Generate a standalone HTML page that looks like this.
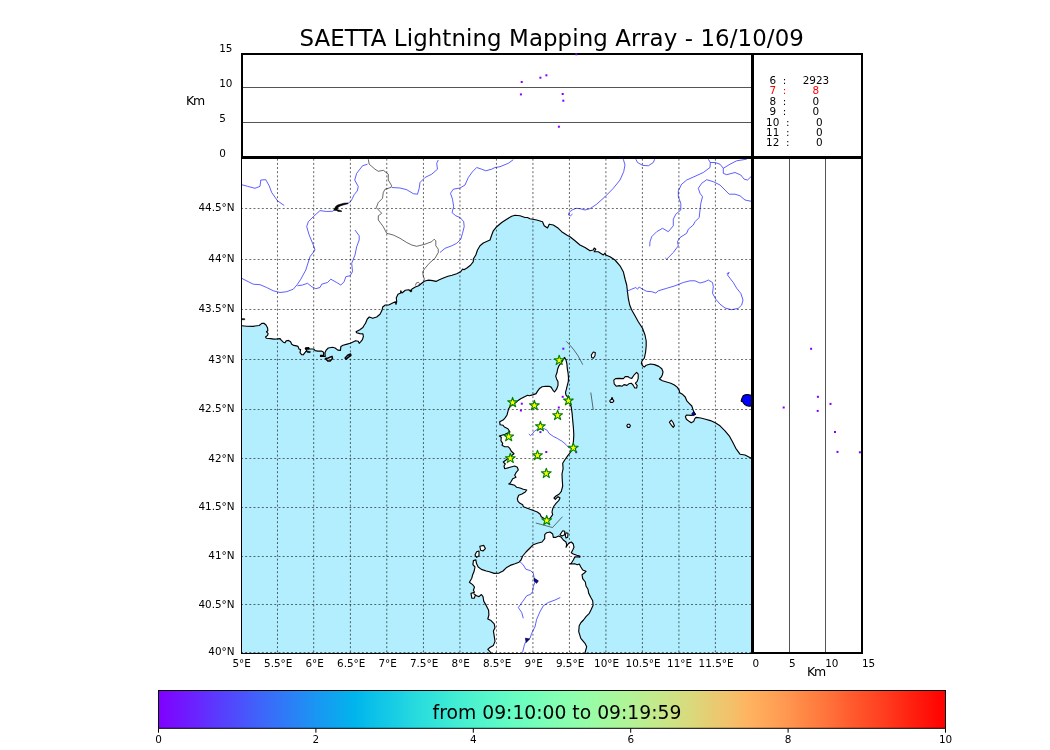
<!DOCTYPE html>
<html><head><meta charset="utf-8"><title>SAETTA Lightning Mapping Array</title>
<style>html,body{margin:0;padding:0;background:#fff}svg{display:block}text{font-family:"DejaVu Sans","Liberation Sans",sans-serif;fill:#000}</style></head><body>
<svg width="1050" height="750" viewBox="0 0 1050 750">
<defs><linearGradient id="rb" x1="0" x2="1" y1="0" y2="0"><stop offset="0.00%" stop-color="#8000ff"/><stop offset="2.50%" stop-color="#7413ff"/><stop offset="5.00%" stop-color="#6826fe"/><stop offset="7.50%" stop-color="#5a3bfd"/><stop offset="10.00%" stop-color="#4e4dfc"/><stop offset="12.50%" stop-color="#4062fa"/><stop offset="15.00%" stop-color="#3473f8"/><stop offset="17.50%" stop-color="#2884f6"/><stop offset="20.00%" stop-color="#1996f3"/><stop offset="22.50%" stop-color="#0ea5ef"/><stop offset="25.00%" stop-color="#00b5eb"/><stop offset="27.50%" stop-color="#0dc2e8"/><stop offset="30.00%" stop-color="#18cde4"/><stop offset="32.50%" stop-color="#27dade"/><stop offset="35.00%" stop-color="#32e3da"/><stop offset="37.50%" stop-color="#40ecd4"/><stop offset="40.00%" stop-color="#4df3ce"/><stop offset="42.50%" stop-color="#58f8c9"/><stop offset="45.00%" stop-color="#66fcc2"/><stop offset="47.50%" stop-color="#72febb"/><stop offset="50.00%" stop-color="#80ffb4"/><stop offset="52.50%" stop-color="#8cfead"/><stop offset="55.00%" stop-color="#99fca6"/><stop offset="57.50%" stop-color="#a6f89d"/><stop offset="60.00%" stop-color="#b2f396"/><stop offset="62.50%" stop-color="#c0eb8d"/><stop offset="65.00%" stop-color="#cce385"/><stop offset="67.50%" stop-color="#d9da7d"/><stop offset="70.00%" stop-color="#e6cd73"/><stop offset="72.50%" stop-color="#f2c26b"/><stop offset="75.00%" stop-color="#ffb360"/><stop offset="77.50%" stop-color="#ffa558"/><stop offset="80.00%" stop-color="#ff964f"/><stop offset="82.50%" stop-color="#ff8444"/><stop offset="85.00%" stop-color="#ff733b"/><stop offset="87.50%" stop-color="#ff5f30"/><stop offset="90.00%" stop-color="#ff4d27"/><stop offset="92.50%" stop-color="#ff3b1e"/><stop offset="95.00%" stop-color="#ff2613"/><stop offset="97.50%" stop-color="#ff1309"/><stop offset="100.00%" stop-color="#ff0000"/></linearGradient>
<clipPath id="mc"><rect x="241.0" y="156.65" width="511.0" height="496.85"/></clipPath></defs>
<rect width="1050" height="750" fill="#fff"/>
<rect x="241.0" y="156.65" width="511.0" height="496.85" fill="#b3eeff"/>
<g clip-path="url(#mc)">
<polygon points="241.7,325.8 246.7,326.3 253.3,326.4 255.0,326.0 259.2,325.5 261.8,323.4 263.9,323.2 266.0,325.0 267.6,328.1 267.8,330.7 266.5,331.8 268.1,333.3 267.6,335.4 265.5,337.0 266.5,338.3 270.7,338.6 273.9,339.1 277.5,338.9 280.1,338.6 281.2,340.1 283.3,342.2 284.9,342.8 286.4,340.7 288.5,340.4 290.6,341.7 291.7,344.3 293.8,345.4 296.4,345.9 298.0,346.4 299.0,349.0 300.6,349.6 300.0,352.7 301.6,354.6 303.2,354.8 305.3,352.2 306.9,350.1 305.3,348.5 308.4,347.7 309.5,349.0 313.7,349.0 315.2,350.6 317.9,351.1 321.5,351.1 323.6,352.2 323.6,355.3 320.5,355.3 320.5,356.4 325.2,356.4 325.0,352.7 326.2,350.1 328.3,348.0 332.5,347.3 335.1,348.0 337.8,350.1 340.4,350.4 340.9,346.4 343.0,345.2 347.2,344.1 350.3,343.3 353.0,342.0 355.6,340.7 358.2,341.2 359.2,343.3 360.8,341.7 362.4,339.6 363.4,336.5 362.9,333.9 359.8,333.6 356.6,332.8 356.1,331.8 359.8,329.7 362.9,327.6 364.0,325.5 365.0,324.0 365.3,323.7 367.3,319.0 369.3,317.0 372.7,318.3 376.7,317.0 380.0,314.3 382.0,310.3 382.7,307.0 385.3,305.0 388.7,305.0 392.7,303.0 395.3,301.7 396.0,304.3 396.7,301.7 396.3,297.7 398.0,294.3 400.7,293.0 400.7,290.7 402.0,293.0 405.3,290.3 408.7,289.7 410.7,291.0 412.0,289.0 415.3,287.0 418.7,285.7 422.0,283.0 424.7,281.0 428.7,280.1 432.7,280.6 436.0,281.4 439.3,279.7 444.0,277.7 448.0,276.3 452.0,275.3 456.7,273.7 460.7,271.7 462.7,269.0 464.0,269.7 467.3,267.7 470.7,265.0 473.3,261.7 473.3,259.0 475.8,255.0 477.5,250.0 480.0,245.8 483.3,243.0 490.0,240.0 491.7,235.0 493.3,230.8 496.7,226.7 501.7,222.5 506.7,219.2 511.7,216.3 515.0,215.3 520.0,215.8 525.0,217.5 527.5,217.5 530.0,218.7 536.7,220.0 542.5,221.7 544.2,225.8 547.5,228.0 549.2,224.2 553.3,225.0 558.3,228.3 561.7,231.7 566.7,235.0 570.0,236.7 575.0,240.8 580.0,245.0 585.0,247.5 590.0,250.8 593.3,250.0 594.2,248.0 595.8,249.2 594.2,251.7 598.3,251.7 603.3,255.0 605.0,253.0 605.8,255.0 610.0,256.7 615.0,260.0 620.0,265.8 623.3,271.7 625.3,280.0 626.7,285.0 627.5,291.7 628.3,298.3 629.7,305.0 631.7,310.0 635.0,315.8 638.3,321.7 642.5,328.3 645.0,335.0 646.2,341.0 646.2,346.0 645.6,352.0 644.4,358.0 642.0,361.0 641.4,363.4 642.6,365.8 644.4,367.0 646.2,365.2 650.4,364.0 654.6,364.6 658.8,366.4 661.8,368.8 663.0,371.8 662.4,374.8 661.2,377.2 659.4,379.0 662.4,380.8 666.6,382.0 670.8,383.2 674.4,385.0 677.4,387.4 679.2,390.4 679.8,392.8 682.8,394.6 685.2,397.0 687.0,401.2 689.4,403.6 691.8,406.0 693.0,409.6 694.2,412.6 695.4,414.4 691.2,415.4 686.4,415.0 685.4,416.8 686.4,419.2 689.4,421.6 691.2,422.8 693.6,421.6 694.8,418.6 696.0,417.4 700.8,418.0 705.6,419.2 710.4,420.6 715.2,422.8 720.0,425.8 725.0,430.8 729.2,435.8 732.5,441.7 735.8,448.3 740.0,454.2 745.0,455.0 752.5,458.8 752.0,156.7 241.0,156.7" fill="#fff"/>
<polyline points="241.7,325.8 246.7,326.3 253.3,326.4 255.0,326.0 259.2,325.5 261.8,323.4 263.9,323.2 266.0,325.0 267.6,328.1 267.8,330.7 266.5,331.8 268.1,333.3 267.6,335.4 265.5,337.0 266.5,338.3 270.7,338.6 273.9,339.1 277.5,338.9 280.1,338.6 281.2,340.1 283.3,342.2 284.9,342.8 286.4,340.7 288.5,340.4 290.6,341.7 291.7,344.3 293.8,345.4 296.4,345.9 298.0,346.4 299.0,349.0 300.6,349.6 300.0,352.7 301.6,354.6 303.2,354.8 305.3,352.2 306.9,350.1 305.3,348.5 308.4,347.7 309.5,349.0 313.7,349.0 315.2,350.6 317.9,351.1 321.5,351.1 323.6,352.2 323.6,355.3 320.5,355.3 320.5,356.4 325.2,356.4 325.0,352.7 326.2,350.1 328.3,348.0 332.5,347.3 335.1,348.0 337.8,350.1 340.4,350.4 340.9,346.4 343.0,345.2 347.2,344.1 350.3,343.3 353.0,342.0 355.6,340.7 358.2,341.2 359.2,343.3 360.8,341.7 362.4,339.6 363.4,336.5 362.9,333.9 359.8,333.6 356.6,332.8 356.1,331.8 359.8,329.7 362.9,327.6 364.0,325.5 365.0,324.0 365.3,323.7 367.3,319.0 369.3,317.0 372.7,318.3 376.7,317.0 380.0,314.3 382.0,310.3 382.7,307.0 385.3,305.0 388.7,305.0 392.7,303.0 395.3,301.7 396.0,304.3 396.7,301.7 396.3,297.7 398.0,294.3 400.7,293.0 400.7,290.7 402.0,293.0 405.3,290.3 408.7,289.7 410.7,291.0 412.0,289.0 415.3,287.0 418.7,285.7 422.0,283.0 424.7,281.0 428.7,280.1 432.7,280.6 436.0,281.4 439.3,279.7 444.0,277.7 448.0,276.3 452.0,275.3 456.7,273.7 460.7,271.7 462.7,269.0 464.0,269.7 467.3,267.7 470.7,265.0 473.3,261.7 473.3,259.0 475.8,255.0 477.5,250.0 480.0,245.8 483.3,243.0 490.0,240.0 491.7,235.0 493.3,230.8 496.7,226.7 501.7,222.5 506.7,219.2 511.7,216.3 515.0,215.3 520.0,215.8 525.0,217.5 527.5,217.5 530.0,218.7 536.7,220.0 542.5,221.7 544.2,225.8 547.5,228.0 549.2,224.2 553.3,225.0 558.3,228.3 561.7,231.7 566.7,235.0 570.0,236.7 575.0,240.8 580.0,245.0 585.0,247.5 590.0,250.8 593.3,250.0 594.2,248.0 595.8,249.2 594.2,251.7 598.3,251.7 603.3,255.0 605.0,253.0 605.8,255.0 610.0,256.7 615.0,260.0 620.0,265.8 623.3,271.7 625.3,280.0 626.7,285.0 627.5,291.7 628.3,298.3 629.7,305.0 631.7,310.0 635.0,315.8 638.3,321.7 642.5,328.3 645.0,335.0 646.2,341.0 646.2,346.0 645.6,352.0 644.4,358.0 642.0,361.0 641.4,363.4 642.6,365.8 644.4,367.0 646.2,365.2 650.4,364.0 654.6,364.6 658.8,366.4 661.8,368.8 663.0,371.8 662.4,374.8 661.2,377.2 659.4,379.0 662.4,380.8 666.6,382.0 670.8,383.2 674.4,385.0 677.4,387.4 679.2,390.4 679.8,392.8 682.8,394.6 685.2,397.0 687.0,401.2 689.4,403.6 691.8,406.0 693.0,409.6 694.2,412.6 695.4,414.4 691.2,415.4 686.4,415.0 685.4,416.8 686.4,419.2 689.4,421.6 691.2,422.8 693.6,421.6 694.8,418.6 696.0,417.4 700.8,418.0 705.6,419.2 710.4,420.6 715.2,422.8 720.0,425.8 725.0,430.8 729.2,435.8 732.5,441.7 735.8,448.3 740.0,454.2 745.0,455.0 752.5,458.8" fill="none" stroke="#000" stroke-width="1.15" stroke-linejoin="round"/>
<polygon points="564.5,357.4 565.9,359.7 566.9,363.9 567.3,368.6 568.1,373.3 568.5,377.9 568.3,381.7 567.3,385.4 566.4,389.2 565.5,392.4 565.9,394.8 567.3,396.6 569.5,402.1 571.3,407.3 572.1,413.3 572.6,419.3 573.4,427.8 573.8,434.7 573.7,436.7 573.3,443.3 572.5,448.0 570.7,452.0 568.0,455.3 564.7,460.0 562.7,463.3 563.1,468.7 562.0,474.0 562.3,480.7 562.7,486.0 561.3,491.3 559.3,494.0 556.0,496.0 554.0,498.0 555.3,499.3 558.0,496.7 560.0,498.0 558.7,500.7 556.0,503.3 554.0,506.0 552.7,508.7 552.0,512.0 552.7,514.7 550.7,517.3 549.0,519.5 546.0,520.5 543.3,518.0 541.3,516.7 540.0,514.0 537.3,512.0 534.0,510.7 530.0,509.3 526.7,508.0 523.3,506.7 522.7,504.7 520.0,503.3 518.0,501.3 517.3,498.7 518.7,495.3 522.0,494.0 525.3,492.0 526.7,490.0 523.3,489.3 520.0,488.0 516.7,487.3 514.7,485.3 511.3,484.4 508.7,484.0 510.0,483.3 511.3,481.3 512.7,478.7 516.0,477.3 514.7,475.3 516.0,472.7 518.3,470.0 517.3,467.3 514.7,466.0 510.0,467.3 504.7,468.7 504.0,466.0 505.3,464.0 503.3,462.0 506.0,460.0 512.0,455.3 514.0,453.7 511.3,451.3 510.0,448.7 508.0,446.7 504.7,446.7 502.0,445.3 502.7,443.3 500.9,440.7 501.3,437.3 499.3,436.0 505.0,434.2 510.0,432.0 507.9,428.7 504.4,427.0 503.1,425.3 500.1,424.8 499.7,421.8 503.1,420.1 505.3,417.6 507.0,415.0 507.9,411.6 508.7,408.6 510.4,406.4 516.4,402.1 518.1,400.4 520.7,398.7 524.1,397.0 527.6,395.3 529.3,395.7 532.7,394.9 536.1,393.6 537.4,391.4 539.6,388.4 542.1,386.7 545.6,386.3 549.0,386.3 551.1,387.1 552.4,389.3 553.3,390.6 554.5,392.0 556.6,389.2 558.0,385.4 558.0,381.7 556.6,378.9 555.7,376.1 557.1,372.3 557.5,369.5 558.9,365.8 561.7,362.1" fill="#fff" stroke="#000" stroke-width="1.15" stroke-linejoin="round"/>
<polygon points="473.4,560.6 475.8,559.8 476.6,563.8 478.2,567.0 481.4,569.4 486.2,571.0 489.4,571.8 494.2,573.4 499.0,573.1 503.0,571.0 506.2,567.8 510.2,565.4 515.0,563.8 519.0,562.2 521.0,560.0 522.7,556.0 526.0,552.0 530.0,548.0 533.3,544.7 537.3,543.3 542.0,542.0 544.7,538.7 544.7,534.7 546.7,532.7 550.0,532.0 552.7,534.0 553.3,537.3 556.0,537.3 558.7,536.0 561.3,537.3 563.3,540.0 566.0,542.0 566.7,544.7 566.0,547.3 568.7,543.3 571.3,542.0 573.3,544.0 574.0,547.3 572.7,550.0 571.3,552.7 573.3,554.0 576.7,555.3 579.8,556.0 579.8,557.2 577.3,556.7 574.7,557.3 573.3,560.0 571.3,563.3 570.0,564.0 574.7,563.7 577.3,564.7 579.3,564.0 580.7,566.7 582.7,570.0 586.0,571.3 584.0,573.3 582.0,574.7 582.7,578.7 585.3,582.0 586.0,586.0 588.0,589.3 588.7,593.3 590.7,597.3 592.7,600.7 593.1,605.3 591.3,609.3 589.3,613.3 586.0,616.7 583.5,620.0 581.0,622.5 579.2,625.8 578.7,631.7 580.8,638.3 585.0,643.3 586.7,646.7 585.0,653.0 490.5,653.0 490.2,651.8 487.8,649.4 489.4,647.8 493.4,645.4 495.0,641.4 494.2,635.8 493.4,631.0 495.0,627.8 494.2,623.8 491.0,620.6 487.8,619.0 488.9,615.0 488.6,610.2 486.2,605.4 483.8,601.4 483.0,596.6 481.4,594.5 479.0,596.6 476.6,595.8 473.9,593.9 475.5,595.0 474.2,598.2 471.8,598.2 471.0,593.4 474.5,592.3 473.4,590.2 474.5,587.0 472.6,584.6 469.4,582.2 471.8,578.2 472.6,575.0 474.2,571.0 475.0,567.0 472.9,564.6 473.4,560.6" fill="#fff"/>
<polyline points="490.5,653.0 490.2,651.8 487.8,649.4 489.4,647.8 493.4,645.4 495.0,641.4 494.2,635.8 493.4,631.0 495.0,627.8 494.2,623.8 491.0,620.6 487.8,619.0 488.9,615.0 488.6,610.2 486.2,605.4 483.8,601.4 483.0,596.6 481.4,594.5 479.0,596.6 476.6,595.8 473.9,593.9 475.5,595.0 474.2,598.2 471.8,598.2 471.0,593.4 474.5,592.3 473.4,590.2 474.5,587.0 472.6,584.6 469.4,582.2 471.8,578.2 472.6,575.0 474.2,571.0 475.0,567.0 472.9,564.6 473.4,560.6 473.4,560.6 475.8,559.8 476.6,563.8 478.2,567.0 481.4,569.4 486.2,571.0 489.4,571.8 494.2,573.4 499.0,573.1 503.0,571.0 506.2,567.8 510.2,565.4 515.0,563.8 519.0,562.2 521.0,560.0 522.7,556.0 526.0,552.0 530.0,548.0 533.3,544.7 537.3,543.3 542.0,542.0 544.7,538.7 544.7,534.7 546.7,532.7 550.0,532.0 552.7,534.0 553.3,537.3 556.0,537.3 558.7,536.0 561.3,537.3 563.3,540.0 566.0,542.0 566.7,544.7 566.0,547.3 568.7,543.3 571.3,542.0 573.3,544.0 574.0,547.3 572.7,550.0 571.3,552.7 573.3,554.0 576.7,555.3 579.8,556.0 579.8,557.2 577.3,556.7 574.7,557.3 573.3,560.0 571.3,563.3 570.0,564.0 574.7,563.7 577.3,564.7 579.3,564.0 580.7,566.7 582.7,570.0 586.0,571.3 584.0,573.3 582.0,574.7 582.7,578.7 585.3,582.0 586.0,586.0 588.0,589.3 588.7,593.3 590.7,597.3 592.7,600.7 593.1,605.3 591.3,609.3 589.3,613.3 586.0,616.7 583.5,620.0 581.0,622.5 579.2,625.8 578.7,631.7 580.8,638.3 585.0,643.3 586.7,646.7 585.0,653.0" fill="none" stroke="#000" stroke-width="1.15" stroke-linejoin="round"/>
<polygon points="613.8,380.2 615.6,378.6 619.2,378.4 623.4,378.6 625.2,376.6 628.2,376.6 629.4,377.8 631.8,378.4 634.2,374.8 636.6,372.4 638.2,374.2 638.2,378.4 637.2,381.4 635.4,383.2 637.2,385.6 636.6,388.0 634.8,388.0 633.0,385.0 631.2,383.2 628.8,383.8 627.0,385.4 624.0,384.6 622.2,386.2 619.2,385.6 616.2,386.2 614.2,383.8" fill="#fff" stroke="#000" stroke-width="1.1" stroke-linejoin="round"/>
<polygon points="591.7,357.5 591.3,355.0 593.3,352.0 595.3,352.5 595.0,355.8 593.3,358.3" fill="#fff" stroke="#000" stroke-width="1.1" stroke-linejoin="round"/>
<polygon points="609.7,401.0 610.5,399.8 611.5,399.5 611.6,397.7 612.5,397.7 612.6,399.5 613.6,400.2 613.8,401.4 612.6,402.4 610.6,402.4" fill="#fff" stroke="#000" stroke-width="1.1" stroke-linejoin="round"/>
<polygon points="626.8,425.8 627.7,424.2 629.5,424.2 630.4,425.8 629.5,427.4 627.7,427.4" fill="#fff" stroke="#000" stroke-width="1.1" stroke-linejoin="round"/>
<polygon points="669.4,422.2 671.4,420.2 673.2,422.8 674.4,425.8 673.2,427.4 671.4,425.2" fill="#fff" stroke="#000" stroke-width="1.1" stroke-linejoin="round"/>
<polygon points="325.4,358.5 328.3,358.0 332.0,356.4 332.5,358.5 329.9,361.1 327.8,360.9" fill="#fff" stroke="#000" stroke-width="1.5" stroke-linejoin="round"/>
<polygon points="345.1,358.0 347.7,355.3 350.5,354.0 350.9,355.3 348.2,357.4 346.1,359.2" fill="#fff" stroke="#000" stroke-width="1.5" stroke-linejoin="round"/>
<polygon points="479.8,546.2 483.8,545.4 485.4,548.6 483.0,551.0 480.6,550.2" fill="#fff" stroke="#000" stroke-width="1.1" stroke-linejoin="round"/>
<polygon points="476.6,551.8 479.0,551.0 479.0,555.8 476.6,557.4 475.0,555.0" fill="#fff" stroke="#000" stroke-width="1.1" stroke-linejoin="round"/>
<polygon points="560.0,534.7 562.7,530.7 564.7,531.3 564.7,534.7 562.0,536.0" fill="#fff" stroke="#000" stroke-width="1.1" stroke-linejoin="round"/>
<polygon points="566.0,532.7 568.0,533.3 567.7,537.3 566.0,538.0 565.3,535.3" fill="#fff" stroke="#000" stroke-width="1.1" stroke-linejoin="round"/>
<polyline points="368.3,159.2 369.2,164.2 375.0,169.2 378.3,171.3 383.3,170.3 388.3,174.2 388.3,180.0 391.7,185.8 390.8,187.5 385.0,189.2 383.3,192.5 382.5,198.3 378.3,202.5 376.3,207.5 381.7,213.3 378.3,215.8 378.3,220.0 383.3,226.7 386.7,233.3 393.3,235.0 400.0,238.3 406.7,242.5 411.7,245.0 416.7,246.3 425.0,244.2 431.7,241.7 434.2,239.2 435.8,240.8 435.8,245.8 438.3,249.2 438.3,252.5 435.0,258.3 429.2,263.3 425.0,268.3 422.7,271.7 423.3,276.3 424.7,279.7" fill="none" stroke="#2a2a2a" stroke-width="0.7"/>
<polyline points="415.3,285.5 416.5,282.8 418.5,282.3 419.5,283.7 418.3,285.8" fill="none" stroke="#2a2a2a" stroke-width="0.7"/>
<polyline points="241.7,184.7 247.5,186.3 255.0,188.3 260.0,186.3 260.8,180.0 265.8,179.7 269.2,185.8 271.7,192.5 277.5,200.8 284.2,205.5" fill="none" stroke="#2a2aff" stroke-width="0.75" stroke-linejoin="round"/>
<polyline points="367.5,164.2 362.5,165.8 356.7,173.3 354.7,180.0 358.3,186.7 357.2,191.0 354.2,194.6 352.4,198.4 351.3,200.7 349.4,202.4 348.0,203.3 340.0,205.3 334.3,209.8 332.8,211.2 326.7,211.5 320.0,210.6 313.3,216.7 308.3,221.7 306.7,226.7 309.2,235.0 313.3,245.0 315.0,250.0 310.0,256.7 305.8,270.0 300.8,279.2 297.5,284.2 293.3,289.2 286.7,291.7 280.0,292.5 273.3,290.8 266.7,287.5 260.0,284.7 253.3,284.2 248.3,281.7 241.7,278.3" fill="none" stroke="#2a2aff" stroke-width="0.75" stroke-linejoin="round"/>
<polyline points="355.0,230.0 359.2,235.8 359.2,240.0 356.7,246.7 355.0,255.0 351.7,263.3 352.5,271.7 350.0,275.8 345.8,276.7 344.2,281.7 340.8,285.0 336.7,282.5 330.8,279.2 327.5,282.5 321.7,284.2 320.0,287.5 315.8,288.7 311.7,286.7 307.5,283.3 302.5,285.0 297.5,285.8" fill="none" stroke="#2a2aff" stroke-width="0.75" stroke-linejoin="round"/>
<polyline points="391.7,187.5 400.0,188.0 406.7,189.7 413.3,193.7 417.5,194.2 419.2,188.3 420.0,182.5 425.0,177.5 431.7,174.2 437.5,169.2 436.7,163.3 438.3,160.0" fill="none" stroke="#2a2aff" stroke-width="0.75" stroke-linejoin="round"/>
<polyline points="513.3,159.7 508.3,163.3 500.0,166.7 495.0,167.5 491.7,169.2 485.8,170.8 481.7,169.2 476.7,167.5 472.5,171.7 468.3,177.5 465.0,185.0 460.0,188.0 453.3,189.2 450.5,193.3 452.5,199.2 453.7,206.7 452.0,212.5 455.8,215.8 460.0,217.5 463.7,221.7 464.2,226.7 462.5,233.3 460.8,239.2 456.7,243.3 451.7,245.8 445.0,248.3 440.0,252.5" fill="none" stroke="#2a2aff" stroke-width="0.75" stroke-linejoin="round"/>
<polyline points="623.3,159.2 625.0,165.0 623.7,171.7 620.0,180.0 613.3,188.3 605.0,196.7 596.7,204.2 590.0,208.7 585.0,210.0 580.0,208.7 576.0,208.3 572.0,210.0 569.0,212.5 568.5,215.0 570.5,215.8 572.5,214.0" fill="none" stroke="#2a2aff" stroke-width="0.75" stroke-linejoin="round"/>
<polyline points="635.8,159.2 637.5,162.5 642.5,165.3 648.3,165.8 653.3,162.5 654.7,159.2" fill="none" stroke="#2a2aff" stroke-width="0.75" stroke-linejoin="round"/>
<polyline points="708.3,159.2 710.3,162.5 710.0,167.5 703.3,172.5 695.0,176.3 686.7,180.0 681.7,184.2 678.3,190.8 678.3,196.7 680.8,203.3 680.8,210.0 675.8,214.2 673.3,219.2 673.3,225.8 668.3,231.7 662.5,228.3 656.7,231.7 651.7,236.7 650.0,241.7 649.7,246.3" fill="none" stroke="#2a2aff" stroke-width="0.75" stroke-linejoin="round"/>
<polyline points="751.3,201.3 745.0,200.0 740.0,195.8 735.0,194.2 729.2,194.2 725.0,190.0 720.0,185.0 713.3,181.7 706.7,179.7 701.7,183.3 698.3,188.3 700.0,193.3 702.5,196.7 700.8,203.3 700.0,210.0 699.2,217.5 695.0,221.7 693.3,225.0 688.3,229.2 686.7,233.3 680.0,237.5 677.5,241.7 678.3,245.8 673.3,252.5 666.7,259.2 665.3,258.0" fill="none" stroke="#2a2aff" stroke-width="0.75" stroke-linejoin="round"/>
<polyline points="710.3,162.5 715.0,162.5 720.0,164.2 723.3,168.3 723.3,173.3 726.7,174.7 735.0,172.5 740.8,175.0 744.2,179.2 747.5,180.0 751.3,176.3" fill="none" stroke="#2a2aff" stroke-width="0.75" stroke-linejoin="round"/>
<polyline points="723.3,168.3 730.0,164.2 736.7,160.8 746.7,159.2" fill="none" stroke="#2a2aff" stroke-width="0.75" stroke-linejoin="round"/>
<polyline points="626.7,291.3 631.7,289.2 635.8,287.5 637.5,289.2 639.2,287.0 642.5,289.2 646.7,291.3 651.7,291.7 655.8,293.0 658.3,290.8 666.7,288.3 675.0,285.8 683.3,282.5 690.0,280.8 695.0,280.8 700.0,283.0 705.0,281.7 708.3,280.0 712.5,282.5 713.3,286.7 712.5,293.3 715.8,299.2 720.0,304.2 725.0,308.0 731.7,309.7 738.3,308.3 741.7,305.0 743.0,300.0 740.8,293.3 736.7,288.3 733.3,282.5 730.0,278.3 727.5,275.0 729.2,272.5 726.7,273.7" fill="none" stroke="#2a2aff" stroke-width="0.75" stroke-linejoin="round"/>
<polyline points="528.8,434.0 530.6,435.6 532.7,433.4 534.8,430.8 537.0,429.6 544.3,428.7 547.3,430.4 549.0,433.4 553.3,436.4 557.6,438.6 561.8,441.1 566.1,444.6 569.2,448.3" fill="none" stroke="#2a2aff" stroke-width="0.75" stroke-linejoin="round"/>
<polyline points="520.0,561.7 523.3,565.0 525.8,569.2 530.8,570.8 533.3,573.3 534.2,578.3 535.0,582.0 533.3,586.7 532.5,591.7 530.8,594.2 526.7,595.8 522.5,601.7 518.3,607.5 521.7,612.5 523.3,618.3" fill="none" stroke="#2a2aff" stroke-width="0.75" stroke-linejoin="round"/>
<polyline points="560.3,597.5 555.0,600.0 548.3,602.5 543.3,605.8 540.0,611.7 536.7,619.2 535.0,626.7 531.7,633.3 530.0,638.3 525.5,642.0 524.2,645.8 522.5,652.5" fill="none" stroke="#2a2aff" stroke-width="0.75" stroke-linejoin="round"/>
<polygon points="347.9,203.0 344.0,203.2 340.2,204.3 337.6,205.1 335.7,206.4 334.3,209.1 333.8,210.2 336.4,210.4 338.3,211.4 341.4,211.6 341.8,211.0 339.5,210.2 337.2,209.7 337.6,208.0 339.1,206.4 342.1,205.3 345.6,204.3 348.0,203.7" fill="#000" stroke="#000" stroke-width="0.6"/>
<polygon points="305.5,347.5 309.0,347.5 309.0,349.4 305.5,349.4" fill="#000" stroke="#000" stroke-width="0.6"/>
<polygon points="306.3,351.1 310.5,351.7 310.0,352.7 306.9,352.2" fill="#000" stroke="#000" stroke-width="0.6"/>
<polygon points="242.0,318.7 244.7,318.7 244.7,319.7 242.0,319.7" fill="#000" stroke="#000" stroke-width="0.6"/>
<polygon points="410.0,290.0 411.7,290.0 411.7,291.7 410.0,291.7" fill="#000" stroke="#000" stroke-width="0.6"/>
<polygon points="534.2,578.3 538.3,580.8 536.7,583.3 534.2,581.0" fill="#0000d0" stroke="#000" stroke-width="0.7"/>
<polygon points="525.4,638.2 529.6,639.0 526.2,642.4" fill="#0000d0" stroke="#000" stroke-width="0.7"/>
<polygon points="691.8,413.8 693.6,411.4 695.6,414.4 693.0,415.6" fill="#0000d0" stroke="#000" stroke-width="0.7"/>
<path d="M241.0 208.50H752.0M241.0 259.50H752.0M241.0 309.50H752.0M241.0 359.50H752.0M241.0 409.50H752.0M241.0 458.50H752.0M241.0 507.50H752.0M241.0 556.50H752.0M241.0 604.50H752.0M241.0 652.50H752.0" fill="none" stroke="#000" stroke-width="0.58" stroke-dasharray="1.95 2.2167"/>
<path d="M277.47 156.65V653.5M313.70 156.65V653.5M350.40 156.65V653.5M386.78 156.65V653.5M423.45 156.65V653.5M459.94 156.65V653.5M496.44 156.65V653.5M532.93 156.65V653.5M569.43 156.65V653.5M605.92 156.65V653.5M642.41 156.65V653.5M678.91 156.65V653.5M715.40 156.65V653.5" fill="none" stroke="#000" stroke-width="0.62" stroke-dasharray="1.95 2.2167" stroke-dashoffset="2.1"/>
<polyline points="566.2,341.3 570.1,345.3 573.9,349.9 577.6,355.1 580.4,360.2 582.8,364.7" fill="none" stroke="#222" stroke-width="0.65"/>
<polyline points="590.8,392.5 593.3,410.0" fill="none" stroke="#222" stroke-width="0.65"/>
<polyline points="535.8,523.0 552.5,527.5 562.5,516.7" fill="none" stroke="#222" stroke-width="0.65"/>
<rect x="520.8" y="402.7" width="2" height="2" fill="#8000ff"/>
<rect x="519.9" y="409.5" width="2" height="2" fill="#8000ff"/>
<rect x="561.7" y="395.8" width="2" height="2" fill="#8000ff"/>
<rect x="557.8" y="406.5" width="2" height="2" fill="#8000ff"/>
<rect x="539.4" y="431.1" width="2" height="2" fill="#8000ff"/>
<rect x="545.3" y="451.0" width="2" height="2" fill="#8000ff"/>
<rect x="575.2" y="451.2" width="2" height="2" fill="#8000ff"/>
<rect x="562.3" y="347.7" width="2" height="2" fill="#8000ff"/>
<polygon points="512.6,397.3 513.8,400.9 517.5,400.9 514.5,403.1 515.7,406.7 512.6,404.5 509.5,406.7 510.7,403.1 507.7,400.9 511.4,400.9" fill="#ffff00" stroke="#008000" stroke-width="1.1" stroke-linejoin="round"/>
<polygon points="534.4,400.3 535.6,403.9 539.3,403.9 536.3,406.1 537.5,409.7 534.4,407.5 531.3,409.7 532.5,406.1 529.5,403.9 533.2,403.9" fill="#ffff00" stroke="#008000" stroke-width="1.1" stroke-linejoin="round"/>
<polygon points="568.4,395.5 569.6,399.1 573.3,399.1 570.3,401.3 571.5,404.9 568.4,402.7 565.3,404.9 566.5,401.3 563.5,399.1 567.2,399.1" fill="#ffff00" stroke="#008000" stroke-width="1.1" stroke-linejoin="round"/>
<polygon points="557.6,410.2 558.8,413.8 562.5,413.8 559.5,416.0 560.7,419.6 557.6,417.4 554.5,419.6 555.7,416.0 552.7,413.8 556.4,413.8" fill="#ffff00" stroke="#008000" stroke-width="1.1" stroke-linejoin="round"/>
<polygon points="540.4,421.3 541.6,424.9 545.3,424.9 542.3,427.1 543.5,430.7 540.4,428.5 537.3,430.7 538.5,427.1 535.5,424.9 539.2,424.9" fill="#ffff00" stroke="#008000" stroke-width="1.1" stroke-linejoin="round"/>
<polygon points="508.7,431.4 509.9,435.0 513.6,435.0 510.6,437.2 511.8,440.8 508.7,438.6 505.6,440.8 506.8,437.2 503.8,435.0 507.5,435.0" fill="#ffff00" stroke="#008000" stroke-width="1.1" stroke-linejoin="round"/>
<polygon points="573.3,442.7 574.5,446.3 578.2,446.3 575.2,448.5 576.4,452.1 573.3,449.9 570.2,452.1 571.4,448.5 568.4,446.3 572.1,446.3" fill="#ffff00" stroke="#008000" stroke-width="1.1" stroke-linejoin="round"/>
<polygon points="537.5,450.2 538.7,453.8 542.4,453.8 539.4,456.0 540.6,459.6 537.5,457.4 534.4,459.6 535.6,456.0 532.6,453.8 536.3,453.8" fill="#ffff00" stroke="#008000" stroke-width="1.1" stroke-linejoin="round"/>
<polygon points="510.3,453.2 511.5,456.8 515.2,456.8 512.2,459.0 513.4,462.6 510.3,460.4 507.2,462.6 508.4,459.0 505.4,456.8 509.1,456.8" fill="#ffff00" stroke="#008000" stroke-width="1.1" stroke-linejoin="round"/>
<polygon points="546.3,468.2 547.5,471.8 551.2,471.8 548.2,474.0 549.4,477.6 546.3,475.4 543.2,477.6 544.4,474.0 541.4,471.8 545.1,471.8" fill="#ffff00" stroke="#008000" stroke-width="1.1" stroke-linejoin="round"/>
<polygon points="546.7,515.3 547.9,518.9 551.6,518.9 548.6,521.1 549.8,524.7 546.7,522.5 543.6,524.7 544.8,521.1 541.8,518.9 545.5,518.9" fill="#ffff00" stroke="#008000" stroke-width="1.1" stroke-linejoin="round"/>
<polygon points="559.2,355.2 560.4,358.8 564.1,358.8 561.1,361.0 562.3,364.6 559.2,362.4 556.1,364.6 557.3,361.0 554.3,358.8 558.0,358.8" fill="#ffff00" stroke="#008000" stroke-width="1.1" stroke-linejoin="round"/>
<polygon points="741.2,400.6 742,398.2 743.2,395.8 745.2,394.8 747.6,394.5 750,395 753,396 753,405.6 751.2,405.9 749.2,406.2 746.8,405.8 744.8,404.6 743.4,403 742.8,401.8 741.4,401.4" fill="#0000ff" stroke="#000" stroke-width="1.1" stroke-linejoin="round"/>
</g>
<path d="M241.5 157V654M241 653.5H752" fill="none" stroke="#000" stroke-width="1"/>
<path d="M242 87.5H752.5M242 122.5H752.5" stroke="#555" stroke-width="1" fill="none"/>
<path d="M789.5 157V653M825.5 157V653" stroke="#555" stroke-width="1" fill="none"/>
<rect x="242" y="54" width="620" height="103" fill="none" stroke="#000" stroke-width="2"/>
<path d="M241 157.5H863" stroke="#000" stroke-width="3" fill="none"/>
<path d="M752.5 53V654" stroke="#000" stroke-width="3" fill="none"/>
<path d="M862 157V653H752" stroke="#000" stroke-width="2" fill="none" stroke-linecap="square"/>
<rect x="520.7" y="81.0" width="2" height="2" fill="#8000ff"/>
<rect x="539.4" y="76.7" width="2" height="2" fill="#8000ff"/>
<rect x="545.4" y="74.3" width="2" height="2" fill="#8000ff"/>
<rect x="519.9" y="93.4" width="2" height="2" fill="#8000ff"/>
<rect x="561.7" y="93.0" width="2" height="2" fill="#8000ff"/>
<rect x="562.3" y="99.7" width="2" height="2" fill="#8000ff"/>
<rect x="557.9" y="125.7" width="2" height="2" fill="#8000ff"/>
<rect x="575.3" y="53.3" width="2" height="2" fill="#8000ff"/>
<rect x="810.1" y="347.8" width="2" height="2" fill="#8000ff"/>
<rect x="816.9" y="395.8" width="2" height="2" fill="#8000ff"/>
<rect x="829.5" y="402.9" width="2" height="2" fill="#8000ff"/>
<rect x="782.7" y="406.5" width="2" height="2" fill="#8000ff"/>
<rect x="816.7" y="409.9" width="2" height="2" fill="#8000ff"/>
<rect x="834.0" y="431.0" width="2" height="2" fill="#8000ff"/>
<rect x="836.5" y="450.9" width="2" height="2" fill="#8000ff"/>
<rect x="858.9" y="451.3" width="2" height="2" fill="#8000ff"/>
<text x="551.7" y="46" font-size="22.92" letter-spacing="0.08" text-anchor="middle">SAETTA Lightning Mapping Array - 16/10/09</text>
<text x="219.2" y="52" font-size="10.42">15</text>
<text x="219.2" y="87" font-size="10.42">10</text>
<text x="219.2" y="122" font-size="10.42">5</text>
<text x="219.2" y="157" font-size="10.42">0</text>
<text x="186" y="105" font-size="12.5" letter-spacing="-1.1">Km</text>
<text x="234.6" y="211" font-size="10.42" text-anchor="end">44.5°N</text>
<text x="234.6" y="262" font-size="10.42" text-anchor="end">44°N</text>
<text x="234.6" y="312" font-size="10.42" text-anchor="end">43.5°N</text>
<text x="234.6" y="363" font-size="10.42" text-anchor="end">43°N</text>
<text x="234.6" y="412" font-size="10.42" text-anchor="end">42.5°N</text>
<text x="234.6" y="462" font-size="10.42" text-anchor="end">42°N</text>
<text x="234.6" y="510" font-size="10.42" text-anchor="end">41.5°N</text>
<text x="234.6" y="559" font-size="10.42" text-anchor="end">41°N</text>
<text x="234.6" y="608" font-size="10.42" text-anchor="end">40.5°N</text>
<text x="234.6" y="655" font-size="10.42" text-anchor="end">40°N</text>
<text x="241.7" y="667" font-size="10.42" text-anchor="middle">5°E</text>
<text x="278.2" y="667" font-size="10.42" text-anchor="middle">5.5°E</text>
<text x="314.7" y="667" font-size="10.42" text-anchor="middle">6°E</text>
<text x="351.2" y="667" font-size="10.42" text-anchor="middle">6.5°E</text>
<text x="387.7" y="667" font-size="10.42" text-anchor="middle">7°E</text>
<text x="424.1" y="667" font-size="10.42" text-anchor="middle">7.5°E</text>
<text x="460.6" y="667" font-size="10.42" text-anchor="middle">8°E</text>
<text x="497.1" y="667" font-size="10.42" text-anchor="middle">8.5°E</text>
<text x="533.6" y="667" font-size="10.42" text-anchor="middle">9°E</text>
<text x="570.1" y="667" font-size="10.42" text-anchor="middle">9.5°E</text>
<text x="606.6" y="667" font-size="10.42" text-anchor="middle">10°E</text>
<text x="643.1" y="667" font-size="10.42" text-anchor="middle">10.5°E</text>
<text x="679.6" y="667" font-size="10.42" text-anchor="middle">11°E</text>
<text x="716.1" y="667" font-size="10.42" text-anchor="middle">11.5°E</text>
<text x="752.6" y="667" font-size="10.42">0</text>
<text x="789.1" y="667" font-size="10.42">5</text>
<text x="825.2" y="667" font-size="10.42">10</text>
<text x="862" y="667" font-size="10.42">15</text>
<text x="807" y="676" font-size="12.5" letter-spacing="-1.1">Km</text>
<text x="766.1" y="84" font-size="10.42" xml:space="preserve" style="white-space:pre"> 6  :     2923</text>
<text x="766.1" y="94" font-size="10.42" xml:space="preserve" style="white-space:pre;fill:#ff0000"> 7  :        8</text>
<text x="766.1" y="105" font-size="10.42" xml:space="preserve" style="white-space:pre"> 8  :        0</text>
<text x="766.1" y="115" font-size="10.42" xml:space="preserve" style="white-space:pre"> 9  :        0</text>
<text x="766.1" y="126" font-size="10.42" xml:space="preserve" style="white-space:pre">10  :        0</text>
<text x="766.1" y="136" font-size="10.42" xml:space="preserve" style="white-space:pre">11  :        0</text>
<text x="766.1" y="146" font-size="10.42" xml:space="preserve" style="white-space:pre">12  :        0</text>
<rect x="158.5" y="690.5" width="787" height="37.8" fill="url(#rb)" stroke="#000" stroke-width="1"/>
<text x="158.5" y="743" font-size="10.42" text-anchor="middle">0</text>
<text x="315.9" y="743" font-size="10.42" text-anchor="middle">2</text>
<text x="473.3" y="743" font-size="10.42" text-anchor="middle">4</text>
<text x="630.7" y="743" font-size="10.42" text-anchor="middle">6</text>
<text x="788.1" y="743" font-size="10.42" text-anchor="middle">8</text>
<text x="945.5" y="743" font-size="10.42" text-anchor="middle">10</text>
<path d="M158.5 728.5V732.7M315.9 728.5V732.7M473.3 728.5V732.7M630.7 728.5V732.7M788.1 728.5V732.7M945.5 728.5V732.7" stroke="#000" stroke-width="1" fill="none"/>
<text x="557" y="719" font-size="18.75" text-anchor="middle">from 09:10:00 to 09:19:59</text>
</svg></body></html>
